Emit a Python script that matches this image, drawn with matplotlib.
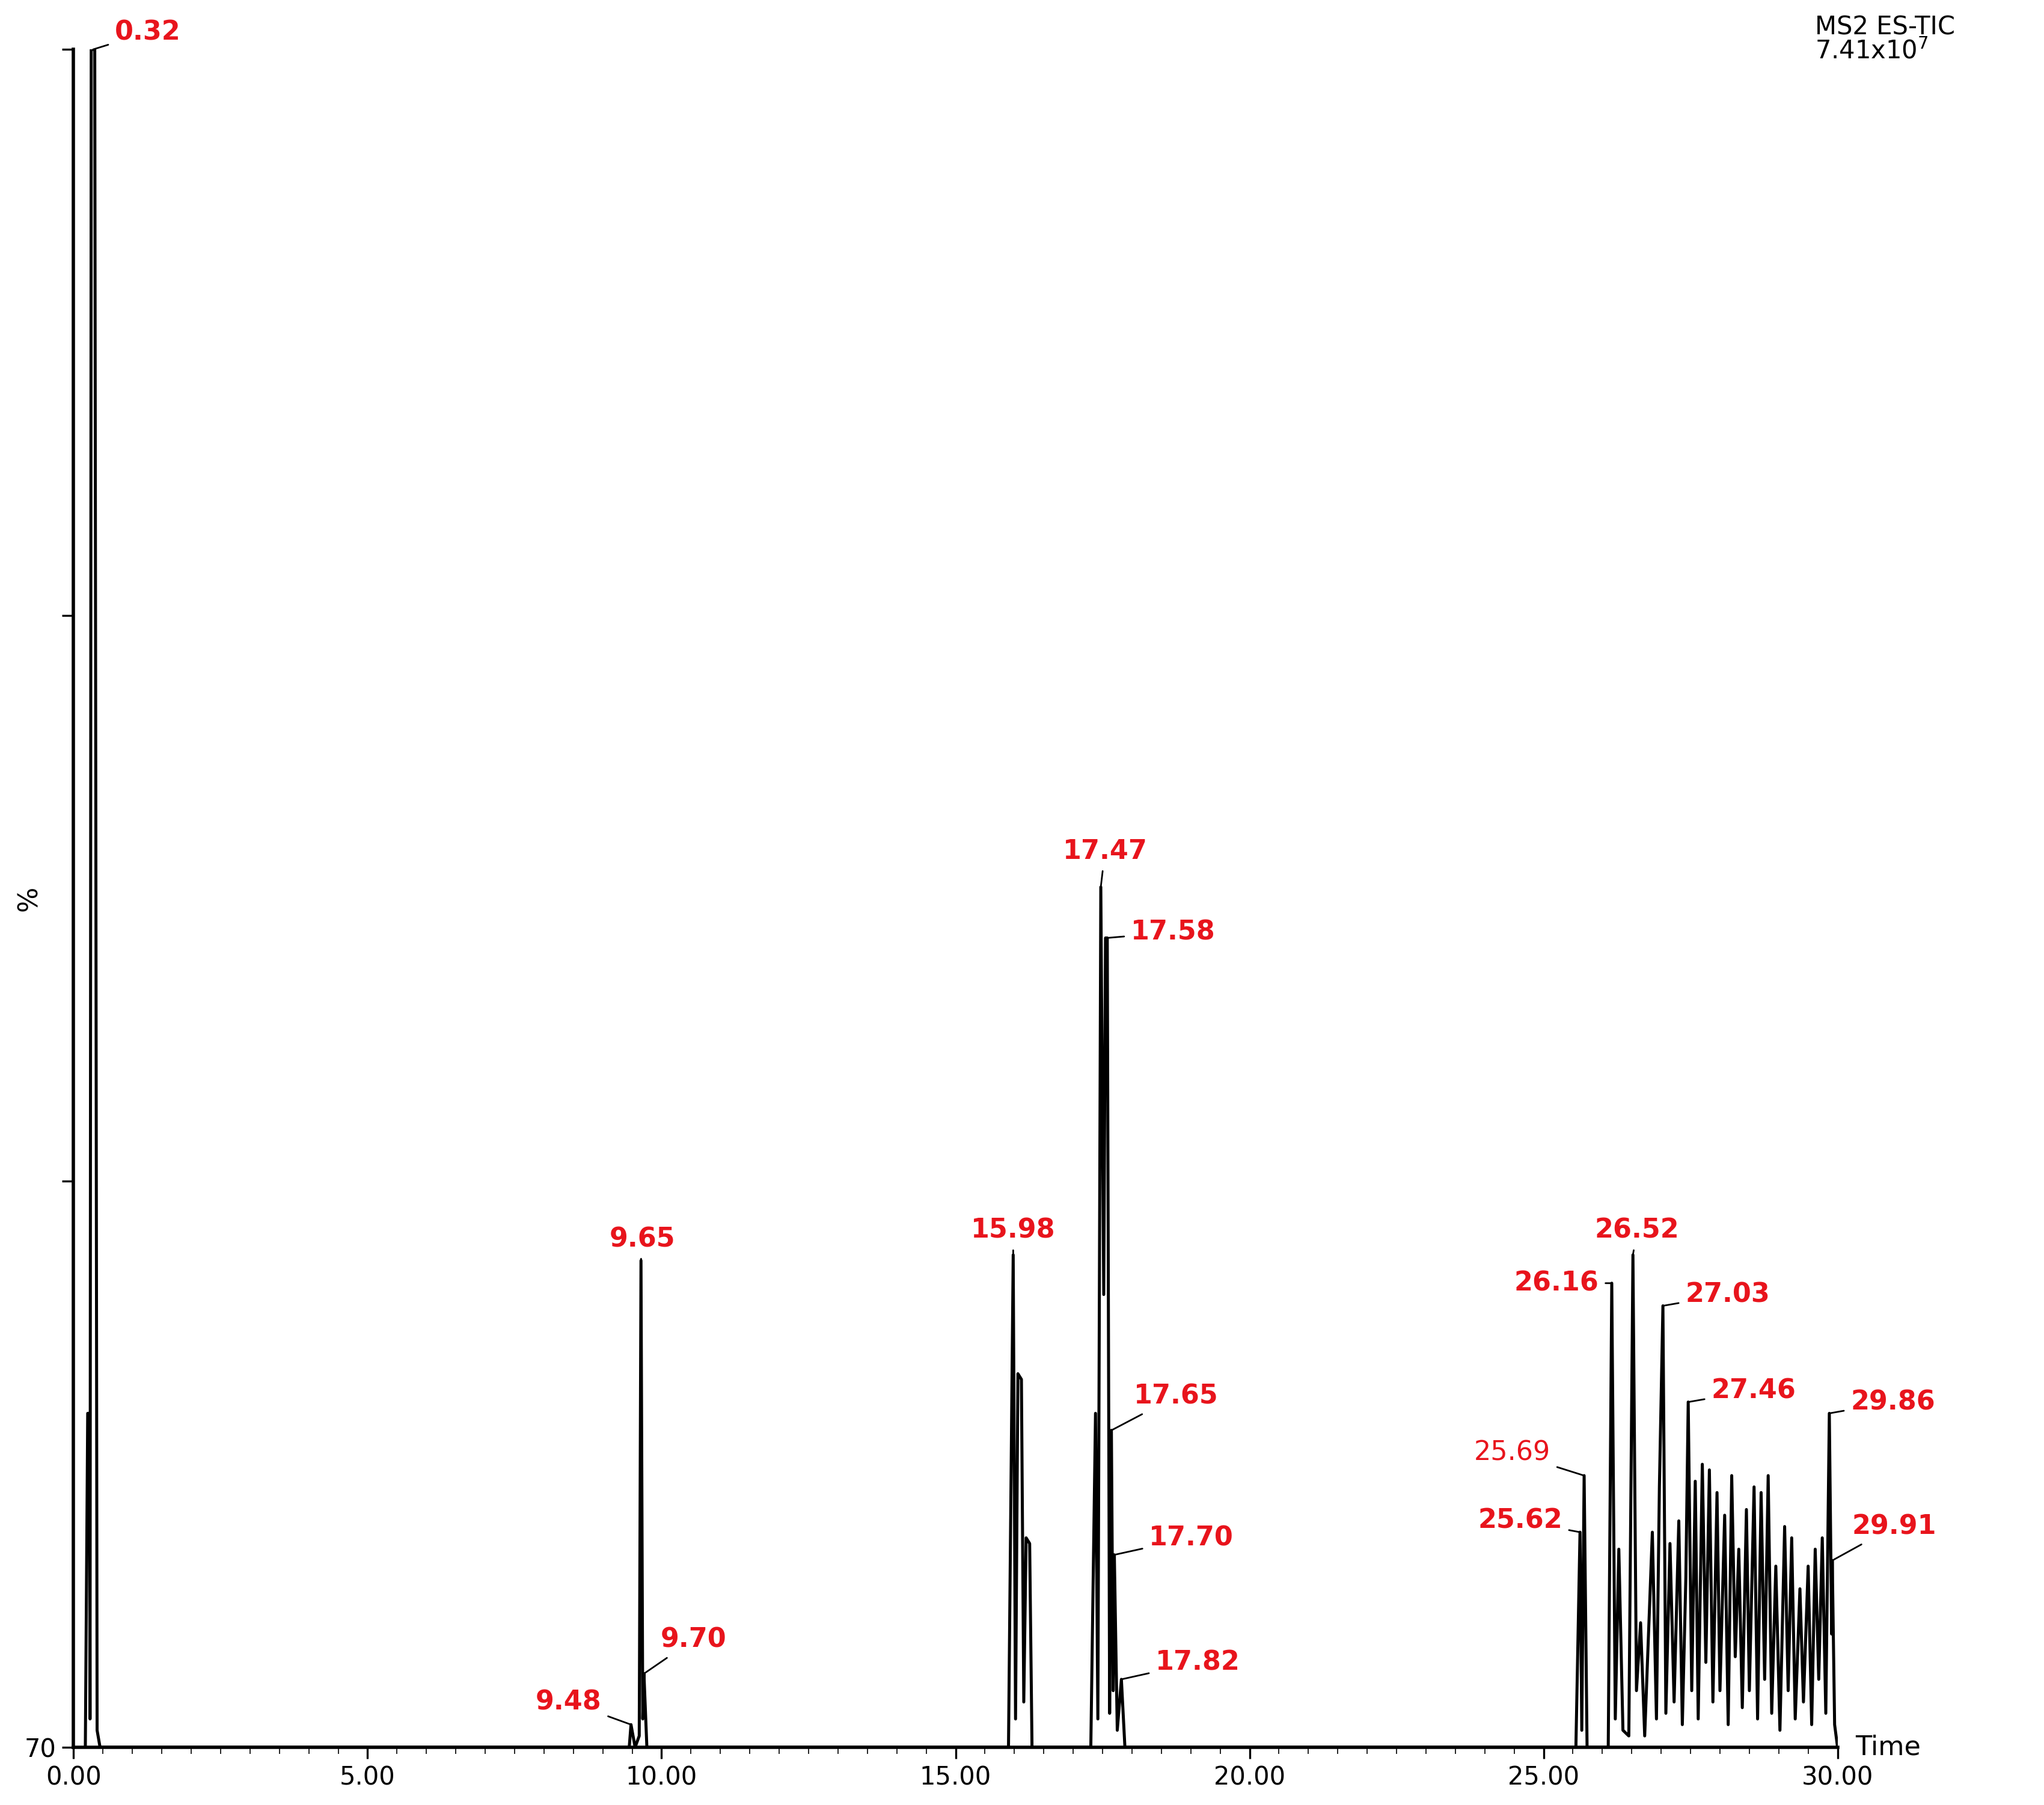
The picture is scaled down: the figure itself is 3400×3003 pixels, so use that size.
import matplotlib
matplotlib.use("Agg")
import matplotlib.pyplot as plt

times = [0.20,0.24,0.27,0.28,0.30,0.36,0.38,0.40,0.45,9.45,9.48,9.55,9.62,9.65,9.68,9.70,9.75,
         15.90,15.98,16.02,16.06,16.12,16.16,16.20,16.26,16.30,
         17.30,17.38,17.42,17.47,17.52,17.55,17.58,17.62,17.65,17.68,17.70,17.75,17.82,17.88,
         25.55,25.62,25.65,25.69,25.74,26.10,26.16,26.22,26.28,26.35,26.45,26.52,26.58,26.65,26.72,
         26.85,26.92,26.97,27.03,27.08,27.15,27.22,27.30,27.36,27.42,27.46,27.52,27.58,27.63,27.70,
         27.76,27.82,27.88,27.95,28.00,28.08,28.14,28.20,28.26,28.32,28.38,28.45,28.50,28.58,28.64,
         28.70,28.76,28.82,28.88,28.95,29.02,29.10,29.16,29.22,29.28,29.36,29.42,29.50,29.56,29.62,
         29.68,29.74,29.80,29.86,29.90,29.91,29.95,30.00]
intensity = [70,75.9,75.9,70.5,100,100,85,70.3,70,70,70.4,70,70.2,78.6,70.5,71.3,70,
             70,78.7,70.5,76.6,76.5,70.8,73.7,73.6,70,
             70,75.9,70.5,85.2,78,84.3,84.3,70.6,75.6,71,73.4,70.3,71.2,70,
             70,73.8,70.3,74.8,70,70,78.2,70.5,73.5,70.3,70.2,78.7,71,72.2,70.2,
             73.8,70.5,74.6,77.8,70.6,73.6,70.8,74,70.4,73,76.1,71,74.7,70.5,75,
             71.5,74.9,70.8,74.5,71,74.1,70.4,74.8,71.6,73.5,70.7,74.2,71,74.6,70.5,
             74.5,71.2,74.8,70.6,73.2,70.3,73.9,71,73.7,70.5,72.8,70.8,73.2,70.4,73.5,
             71.2,73.7,70.6,75.9,72,73.3,70.4,70]

label_text = ["0.32","9.65","9.70","9.48","15.98","17.47","17.58","17.65","17.70","17.82",
              "25.62","25.69","26.16","26.52","27.03","27.46","29.86","29.91"]
label_peak_t = [0.33,9.65,9.70,9.48,15.98,17.47,17.57,17.65,17.70,17.82,
                25.62,25.69,26.16,26.52,27.03,27.46,29.86,29.91]
label_peak_y = [100,78.6,71.3,70.4,78.7,85.2,84.3,75.6,73.4,71.2,
                73.8,74.8,78.2,78.7,77.8,76.1,75.9,73.3]
# layout (text positions)
lab_pos = [(0.7,100.3,'left','center'),(9.67,78.75,'center','bottom'),(9.98,71.9,'left','center'),
           (8.98,70.8,'right','center'),(15.98,78.9,'center','bottom'),(17.54,85.6,'center','bottom'),
           (17.98,84.4,'left','center'),(18.03,76.2,'left','center'),(18.29,73.7,'left','center'),
           (18.40,71.5,'left','center'),(25.32,74.0,'right','center'),(25.12,75.2,'right','center'),
           (25.94,78.2,'right','center'),(26.59,78.9,'center','bottom'),(27.41,78.0,'left','center'),
           (27.85,76.3,'left','center'),(30.22,76.1,'left','center'),(30.24,73.9,'left','center')]

fig = plt.figure(figsize=(17, 15.015), dpi=200)
ax = fig.add_axes([0.036, 0.032, 0.863, 0.9406])
ax.plot(times, intensity, color='black', lw=1.8)
ax.set_xlim(0, 30)
ax.set_ylim(70, 100)
for s in ['top', 'right']:
    ax.spines[s].set_visible(False)
ax.spines['left'].set_linewidth(2)
ax.spines['bottom'].set_linewidth(2)
ax.set_xticks([0, 5, 10, 15, 20, 25, 30])
ax.set_xticklabels(["0.00", "5.00", "10.00", "15.00", "20.00", "25.00", "30.00"], fontsize=15)
ax.set_xticks([i * 0.5 for i in range(61)], minor=True)
ax.set_yticks([70, 80, 90, 100])
ax.set_yticklabels(["70", "", "", ""], fontsize=15)
ax.tick_params(axis='both', direction='out', length=7, width=1.2)
ax.tick_params(axis='x', which='minor', length=4)
ax.set_ylabel("%", fontsize=16)
ax.yaxis.set_label_coords(-0.018, 0.5)
ax.text(30.3, 70.0, "Time", fontsize=16, ha='left', va='center', clip_on=False)
fig.text(0.888, 0.992, "MS2 ES-TIC\n7.41x10$^7$", fontsize=15, ha='left', va='top', linespacing=0.95)

for i, txt in enumerate(label_text):
    tx, ty, ha, va = lab_pos[i]
    bold = 'normal' if txt == "25.69" else 'bold'
    ax.annotate(txt, xy=(label_peak_t[i], label_peak_y[i]), xytext=(tx, ty),
                ha=ha, va=va, color='#e8141c', fontsize=16, fontweight=bold,
                annotation_clip=False,
                arrowprops=dict(arrowstyle='-', lw=1, color='black', shrinkA=2, shrinkB=0))

fig.savefig("out.png", dpi=200)
